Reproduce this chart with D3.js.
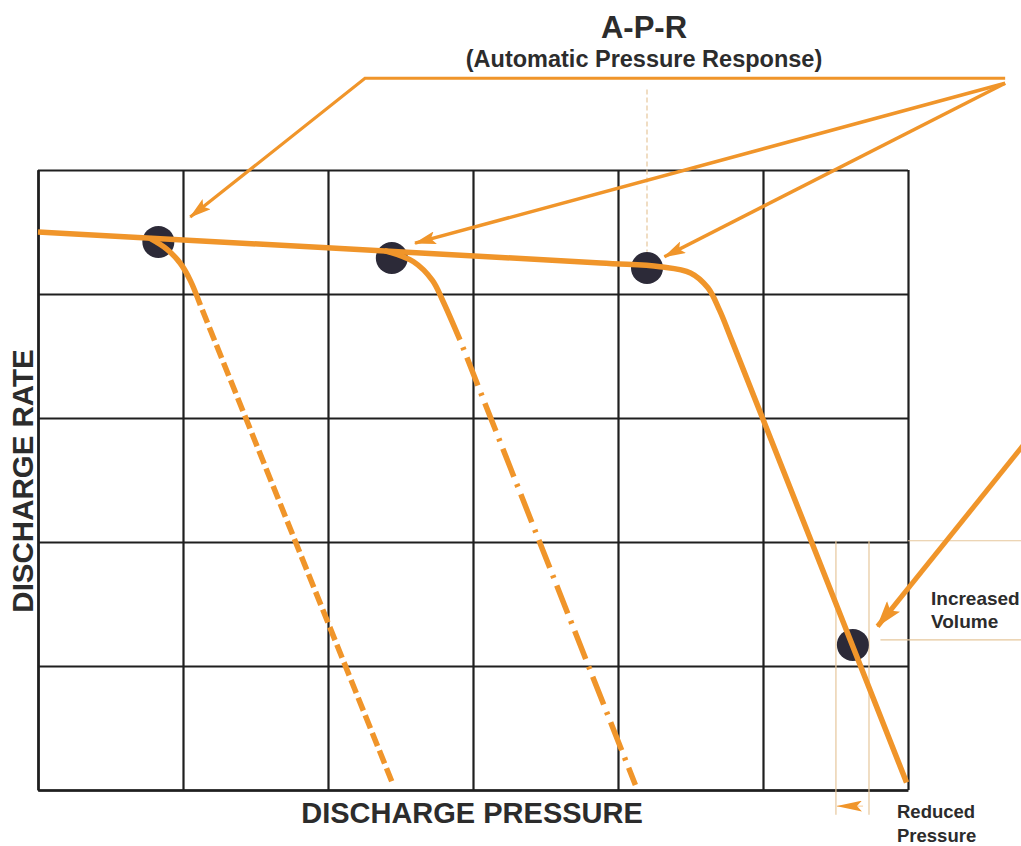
<!DOCTYPE html>
<html lang="en">
<head>
  <meta charset="UTF-8">
  <title>A-P-R</title>
  <script src="https://cdnjs.cloudflare.com/ajax/libs/d3/7.8.5/d3.min.js"></script>
  <style>
    body { margin: 0; background: #fff; }
    text { font-family: "Liberation Sans", Arial, sans-serif; font-weight: bold; fill: #2c2c2c; }
  </style>
</head>
<body>
  <script>
var width = 1021,
    height = 846;

var orange = "#F0952A",
    tan = "#E6C79C",
    ink = "#1f1f1f",
    dotFill = "#2c2a38";

// grid cells: pressure 0..6 across, rate 0..5 up
var pressureTicks = [0, 1, 2, 3, 4, 5, 6];
var rateTicks = [0, 1, 2, 3, 4, 5];

// main response curve (solid)
var mainCurve = [[0, 4.50], [3.88, 4.25], [4.29, 4.22], [4.50, 4.17], [4.62, 4.05], [4.70, 3.87], [4.79, 3.61], [5.99, 0.06]];
// first curve: knee solid, tail dashed
var curve1Knee = [[0.77, 4.45], [0.89, 4.36], [0.98, 4.25], [1.05, 4.11], [1.12, 3.91]];
var curve1Tail = [[1.12, 3.91], [2.45, 0.04]];
// second curve: knee solid, tail dash-dot
var curve2Knee = [[2.39, 4.35], [2.59, 4.26], [2.72, 4.11], [2.79, 3.95], [2.91, 3.63]];
var curve2Tail = [[2.91, 3.63], [4.12, 0.04]];
// A-P-R points
var aprPoints = [[0.83, 4.42], [2.44, 4.29], [4.20, 4.21], [5.62, 1.17]];

// callout arrows
var callout1 = [[6.67, 5.74], [2.255, 5.74], [1.05, 4.62]];
var callout2 = [[6.67, 5.70], [2.60, 4.41]];
var callout3 = [[6.67, 5.70], [4.32, 4.30]];
var callout4 = [[6.96, 3.02], [5.79, 1.32]];

// thin guide lines
var guideApr = [[4.20, 5.65], [4.20, 4.34]];
var guidePressL = [[5.503, 2.01], [5.503, -0.20]];
var guidePressR = [[5.731, 2.01], [5.731, -0.20]];
var guideVolTop = [[6.0, 2.01], [6.8, 2.01]];
var guideVolMid = [[5.81, 1.21], [6.8, 1.21]];
var pressArrow = [[5.69, -0.13], [5.51, -0.13]];

var x = d3.scaleLinear().domain([0, 6]).range([38, 908]);
var y = d3.scaleLinear().domain([0, 5]).range([790, 170]);

var svg = d3.select("body").append("svg")
    .attr("width", width)
    .attr("height", height)
    .style("background-color", "#fff");

var defs = svg.append("defs");
function marker(id, w, h, ref) {
  defs.append("marker")
      .attr("id", id)
      .attr("viewBox", "0 0 10 10")
      .attr("preserveAspectRatio", "none")
      .attr("refX", ref).attr("refY", 5)
      .attr("markerUnits", "userSpaceOnUse")
      .attr("markerWidth", w).attr("markerHeight", h)
      .attr("orient", "auto")
    .append("path")
      .attr("d", "M0,0 L10,5 L0,10 L2,5 z")
      .style("fill", orange);
}
marker("head", 22, 13, 9.5);
marker("headBig", 27, 17, 9.5);
marker("headSmall", 25, 11, 10);

// grid
svg.append("g")
    .attr("transform", "translate(0," + y(0) + ")")
    .call(d3.axisBottom(x).tickValues(pressureTicks).tickSize(-(y(0) - y(5))).tickSizeOuter(0).tickFormat(""));
svg.append("g")
    .attr("transform", "translate(" + x(0) + ",0)")
    .call(d3.axisLeft(y).tickValues(rateTicks).tickSize(-(x(6) - x(0))).tickSizeOuter(0).tickFormat(""));
svg.selectAll(".tick line").style("stroke", ink).style("stroke-width", 2.2);
svg.selectAll(".domain").style("stroke", ink).style("stroke-width", 2.5);

var line = d3.line().x(function(d) { return x(d[0]); }).y(function(d) { return y(d[1]); });
var smooth = d3.line().curve(d3.curveCatmullRom.alpha(0.5))
    .x(function(d) { return x(d[0]); }).y(function(d) { return y(d[1]); });

// thin tan guides
function guide(pts, dash) {
  svg.append("path").attr("d", line(pts))
      .style("fill", "none").style("stroke", tan).style("stroke-width", 1.2)
      .style("stroke-dasharray", dash || null);
}
guide(guideApr, "5,3");
guide(guidePressL);
guide(guidePressR);
guide(guideVolTop);
guide(guideVolMid);

svg.append("path").attr("d", line(pressArrow))
    .style("fill", "none").style("stroke", orange).style("stroke-width", 0.5)
    .attr("marker-end", "url(#headSmall)");

// dots under the curves
svg.selectAll("circle.apr")
    .data(aprPoints)
  .enter().append("circle")
    .attr("class", "apr")
    .attr("cx", function(d) { return x(d[0]); })
    .attr("cy", function(d) { return y(d[1]); })
    .attr("r", 16)
    .style("fill", dotFill);

// curves
function curve(pts, gen, dash, offset) {
  svg.append("path").attr("d", gen(pts))
      .style("fill", "none").style("stroke", orange).style("stroke-width", 5.5)
      .style("stroke-linejoin", "round")
      .style("stroke-dasharray", dash || null)
      .style("stroke-dashoffset", offset || 0);
}
curve(curve1Knee, smooth);
curve(curve1Tail, line, "14,5", 14);
curve(curve2Knee, smooth);
curve(curve2Tail, line, "30,8,3,8", 30);
curve(mainCurve, smooth);

// callouts
function callout(pts, w, head) {
  svg.append("path").attr("d", line(pts))
      .style("fill", "none").style("stroke", orange).style("stroke-width", w)
      .style("stroke-linejoin", "miter")
      .attr("marker-end", "url(#" + head + ")");
}
callout(callout1, 3.2, "head");
callout(callout2, 3.5, "head");
callout(callout3, 3.5, "head");
callout(callout4, 5, "headBig");

// titles
svg.append("text").attr("x", 644).attr("y", 38)
    .attr("text-anchor", "middle").style("font-size", "31px").text("A-P-R");
svg.append("text").attr("x", 644).attr("y", 67)
    .attr("text-anchor", "middle").style("font-size", "23.5px").text("(Automatic Pressure Response)");

svg.append("text").attr("x", 472).attr("y", 823)
    .attr("text-anchor", "middle").style("font-size", "29px").text("DISCHARGE PRESSURE");
svg.append("text")
    .attr("transform", "translate(33,481) rotate(-90)")
    .attr("text-anchor", "middle").style("font-size", "29.5px").text("DISCHARGE RATE");

svg.append("text").attr("x", 931).attr("y", 605).style("font-size", "19px").text("Increased");
svg.append("text").attr("x", 931).attr("y", 628).style("font-size", "19px").text("Volume");
svg.append("text").attr("x", 897).attr("y", 818).style("font-size", "18.5px").text("Reduced");
svg.append("text").attr("x", 897).attr("y", 842).style("font-size", "18.5px").text("Pressure");
  </script>
</body>
</html>
